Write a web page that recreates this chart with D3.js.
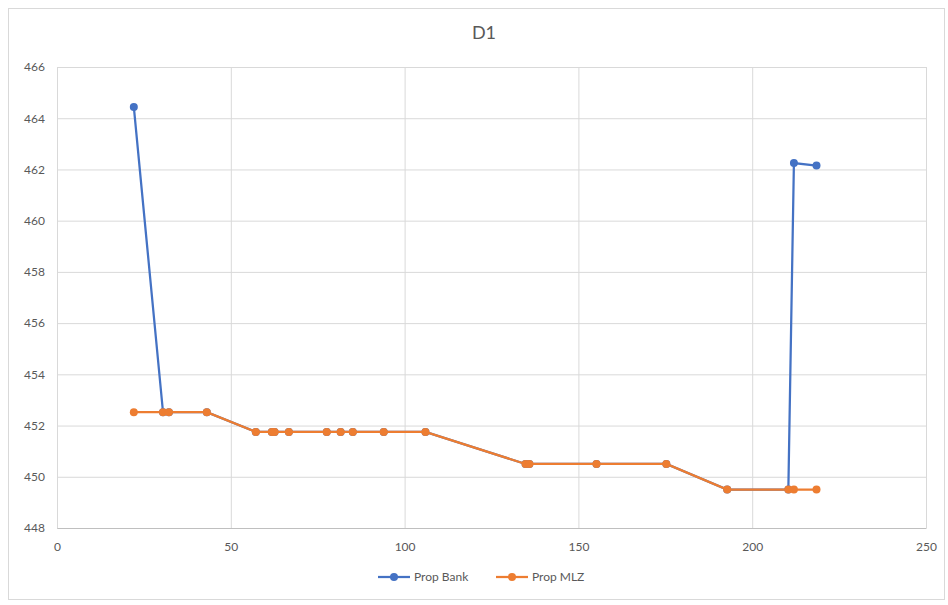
<!DOCTYPE html>
<html>
<head>
<meta charset="utf-8">
<script src="https://cdn.jsdelivr.net/npm/d3@7"></script>
<style>
  body { margin: 0; background: #fff; }
  svg { display: block; font-family: Lato, "Open Sans", sans-serif; }
</style>
</head>
<body>
<div id="chart"></div>
<script>
// Values
const bankX = [22.1, 30.5, 32.2, 43.1, 57.2, 61.8, 62.6, 66.7, 77.6, 81.6, 85.1, 94.0, 106.0, 134.8, 135.9, 155.2, 175.3, 192.8, 210.4, 212.0, 218.5];
const bankY = [464.44, 452.52, 452.52, 452.52, 451.75, 451.75, 451.75, 451.75, 451.75, 451.75, 451.75, 451.75, 451.75, 450.5, 450.5, 450.5, 450.5, 449.5, 449.5, 462.25, 462.15];
const mlzX = [22.1, 30.5, 32.2, 43.1, 57.2, 61.8, 62.6, 66.7, 77.6, 81.6, 85.1, 94.0, 106.0, 134.8, 135.9, 155.2, 175.3, 192.8, 210.4, 212.0, 218.5];
const mlzY = [452.52, 452.52, 452.52, 452.52, 451.75, 451.75, 451.75, 451.75, 451.75, 451.75, 451.75, 451.75, 451.75, 450.5, 450.5, 450.5, 450.5, 449.5, 449.5, 449.5, 449.5];
const xTicks = [0, 50, 100, 150, 200, 250];
const yTicks = [448, 450, 452, 454, 456, 458, 460, 462, 464, 466];
const seriesNames = ["Prop Bank", "Prop MLZ"];
const seriesColors = ["#4472C4", "#ED7D31"];

const W = 948, H = 605;
const margin = {top: 67, right: 22, bottom: 77, left: 57};
const width = W - margin.left - margin.right,
      height = H - margin.top - margin.bottom;

const svg = d3.select("#chart").append("svg")
    .attr("width", W).attr("height", H);

// chart frame
svg.append("rect")
    .attr("x", 8.5).attr("y", 8.5)
    .attr("width", 936).attr("height", 591)
    .attr("fill", "#fff").attr("stroke", "#d9d9d9");

svg.append("text")
    .attr("x", 484).attr("y", 39)
    .attr("text-anchor", "middle")
    .style("font-size", "18px")
    .style("fill", "#595959")
    .text("D1");

const g = svg.append("g").attr("transform", `translate(${margin.left},${margin.top})`);

const x = d3.scaleLinear().domain([0, 250]).range([0, width]);
const y = d3.scaleLinear().domain([448, 466]).range([height, 0]);

// gridlines
g.append("g")
    .call(d3.axisLeft(y).tickValues(yTicks).tickSize(-width).tickFormat(""))
    .call(s => s.select(".domain").remove())
    .call(s => s.selectAll("line").attr("stroke", "#d9d9d9"));
g.append("g")
    .attr("transform", `translate(0,${height})`)
    .call(d3.axisBottom(x).tickValues(xTicks).tickSize(-height).tickFormat(""))
    .call(s => s.select(".domain").remove())
    .call(s => s.selectAll("line").attr("stroke", "#d9d9d9"));

// axes labels
const yAxis = g.append("g")
    .call(d3.axisLeft(y).tickValues(yTicks).tickSize(0).tickPadding(12).tickFormat(d3.format("d")));
yAxis.select(".domain").remove();
yAxis.selectAll("text").style("font-size", "12px").style("fill", "#595959").style("font-family", "Lato, sans-serif");

const xAxis = g.append("g")
    .attr("transform", `translate(0,${height})`)
    .call(d3.axisBottom(x).tickValues(xTicks).tickSize(0).tickPadding(14).tickFormat(d3.format("d")));
xAxis.select(".domain").attr("stroke", "#bfbfbf");
xAxis.selectAll("text").style("font-size", "12px").style("fill", "#595959").style("font-family", "Lato, sans-serif");

// series
const series = [
    bankX.map((v, i) => ({x: v, y: bankY[i]})),
    mlzX.map((v, i) => ({x: v, y: mlzY[i]}))
];

const line = d3.line().x(d => x(d.x)).y(d => y(d.y));

series.forEach((data, k) => {
    g.append("path")
        .datum(data)
        .attr("fill", "none")
        .attr("stroke", seriesColors[k])
        .attr("stroke-width", 2.25)
        .attr("d", line);
    g.selectAll(".pt" + k)
        .data(data)
        .enter().append("circle")
        .attr("class", "pt" + k)
        .attr("cx", d => x(d.x))
        .attr("cy", d => y(d.y))
        .attr("r", 4)
        .attr("fill", seriesColors[k]);
});

// legend
const legend = svg.append("g").attr("transform", "translate(378, 577)");
seriesNames.forEach((name, i) => {
    const item = legend.append("g").attr("transform", `translate(${i * 118}, 0)`);
    item.append("line")
        .attr("x1", 0).attr("x2", 32)
        .attr("stroke", seriesColors[i]).attr("stroke-width", 2.25);
    item.append("circle")
        .attr("cx", 16).attr("r", 4).attr("fill", seriesColors[i]);
    item.append("text")
        .attr("x", 36).attr("y", 4)
        .style("font-size", "12px")
        .style("fill", "#595959")
        .text(name);
});
</script>
</body>
</html>
